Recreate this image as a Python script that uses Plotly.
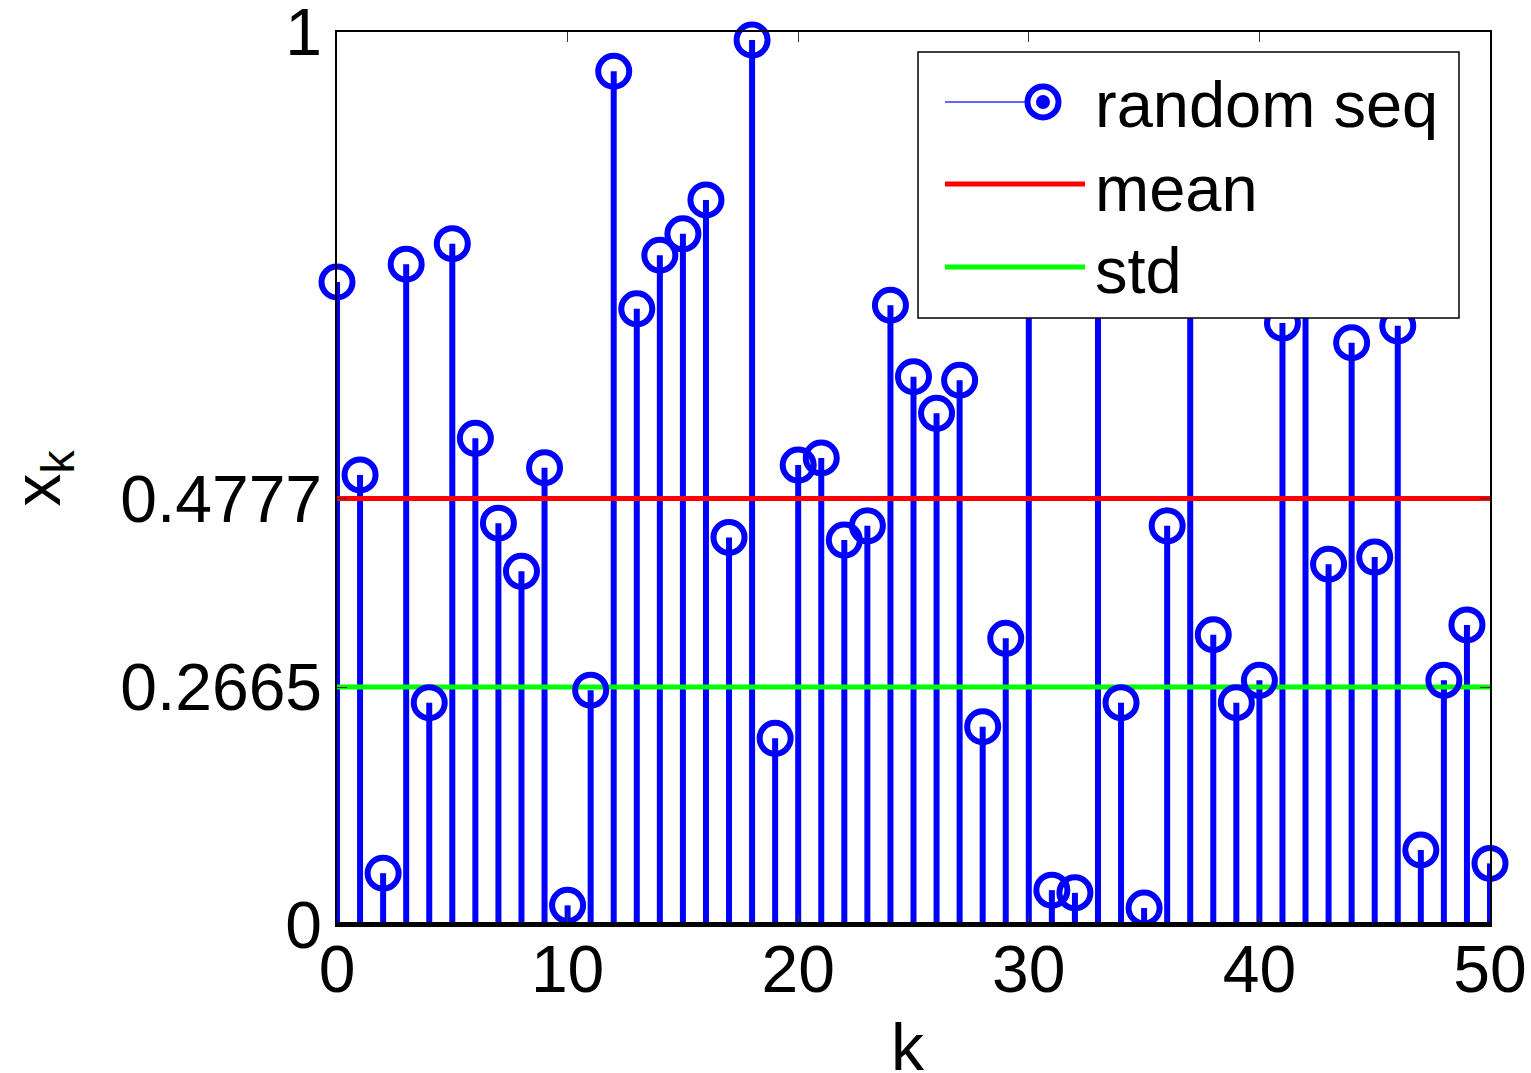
import plotly.graph_objects as go

# ---- data ----
k_values = list(range(51))
x_values = [0.720, 0.504, 0.058, 0.740, 0.249, 0.763, 0.545, 0.450, 0.396, 0.512,
            0.022, 0.263, 0.956, 0.690, 0.750, 0.774, 0.812, 0.434, 0.991, 0.209,
            0.515, 0.523, 0.431, 0.447, 0.694, 0.614, 0.573, 0.610, 0.222, 0.321,
            0.860, 0.039, 0.036, 0.800, 0.249, 0.019, 0.447, 0.900, 0.325, 0.249,
            0.274, 0.674, 0.800, 0.404, 0.652, 0.412, 0.671, 0.084, 0.274, 0.336,
            0.069]
mean_value = 0.4777
std_value = 0.2665
x_tick_vals = [0, 10, 20, 30, 40, 50]
y_tick_vals = [0, std_value, mean_value, 1]
y_tick_text = ["0", "0.2665", "0.4777", "1"]
legend_labels = ["random seq", "mean", "std"]
x_title = "k"
y_title = "x<sub>k</sub>"

BLUE = "#0000FF"
FONT = "Liberation Sans"
FS = 66
LFS = 65

# stems built from data with gaps
stem_x, stem_y = [], []
for k, v in zip(k_values, x_values):
    stem_x += [k, k, None]
    stem_y += [0, v, None]

fig = go.Figure()
fig.add_trace(go.Scatter(x=stem_x, y=stem_y, mode="lines",
                         line=dict(color=BLUE, width=6), showlegend=False,
                         hoverinfo="skip"))
kmin, kmax = k_values[0], k_values[-1]
fig.add_trace(go.Scatter(x=[kmin, kmax], y=[mean_value, mean_value], mode="lines",
                         line=dict(color="#FF0000", width=5), showlegend=False))
fig.add_trace(go.Scatter(x=[kmin, kmax], y=[std_value, std_value], mode="lines",
                         line=dict(color="#00FF00", width=5), showlegend=False))
fig.add_trace(go.Scatter(x=k_values, y=x_values, mode="markers",
                         marker=dict(symbol="circle-open", size=31, color=BLUE,
                                     line=dict(width=6, color=BLUE)),
                         cliponaxis=False, showlegend=False))

# baseline
fig.add_shape(type="line", xref="x", yref="y", x0=kmin, x1=kmax, y0=0, y1=0,
              line=dict(color="black", width=6), layer="above")

# ---- manual legend (paper coordinates) ----
L, T, W, H = 337, 32, 1153, 893
def px(xp):
    return (xp - L) / W
def py(yp):
    return (T + H - yp) / H

fig.add_shape(type="rect", xref="paper", yref="paper",
              x0=px(918), x1=px(1459), y0=py(318), y1=py(52),
              line=dict(color="black", width=1.5), fillcolor="white", layer="above")
# random seq entry
fig.add_shape(type="line", xref="paper", yref="paper",
              x0=px(945), x1=px(1030), y0=py(102), y1=py(102),
              line=dict(color="#6666FF", width=2), layer="above")
fig.add_shape(type="circle", xref="paper", yref="paper",
              xsizemode="pixel", ysizemode="pixel", xanchor=px(1043), yanchor=py(102),
              x0=-15.5, x1=15.5, y0=-15.5, y1=15.5,
              line=dict(color=BLUE, width=6), fillcolor="white", layer="above")
fig.add_shape(type="circle", xref="paper", yref="paper",
              xsizemode="pixel", ysizemode="pixel", xanchor=px(1043), yanchor=py(102),
              x0=-7, x1=7, y0=-7, y1=7,
              line=dict(color=BLUE, width=0), fillcolor=BLUE, layer="above")
fig.add_shape(type="line", xref="paper", yref="paper",
              x0=px(945), x1=px(1085), y0=py(184), y1=py(184),
              line=dict(color="#FF0000", width=5), layer="above")
fig.add_shape(type="line", xref="paper", yref="paper",
              x0=px(945), x1=px(1085), y0=py(267), y1=py(267),
              line=dict(color="#00FF00", width=5), layer="above")
for lab, yy in zip(legend_labels, [104, 188, 270]):
    fig.add_annotation(text=lab, xref="paper", yref="paper", x=px(1093), y=py(yy),
                       xanchor="left", yanchor="middle", showarrow=False,
                       font=dict(family=FONT, size=LFS, color="black"))

# x-axis title
fig.add_annotation(text=x_title, xref="paper", yref="paper", x=px(908), y=py(1047),
                   xanchor="center", yanchor="middle", showarrow=False,
                   font=dict(family=FONT, size=FS, color="black"))

fig.update_layout(
    width=1531, height=1073,
    margin=dict(l=L, r=1531 - L - W, t=T, b=1073 - T - H, autoexpand=False),
    paper_bgcolor="white", plot_bgcolor="white",
    font=dict(family=FONT, size=FS, color="black"),
    showlegend=False,
)
fig.update_xaxes(range=[kmin, kmax], tickvals=x_tick_vals,
                 ticktext=[str(v) for v in x_tick_vals],
                 showgrid=False, zeroline=False, showline=True, mirror="ticks",
                 linecolor="black", linewidth=1.5, ticks="inside", ticklen=10,
                 tickwidth=1, tickcolor="#333333", ticklabelstandoff=-14,
                 ticklabeloverflow="allow",
                 tickfont=dict(family=FONT, size=FS))
fig.update_yaxes(range=[0, 1], tickvals=y_tick_vals, ticktext=y_tick_text,
                 showgrid=False, zeroline=False, showline=True, mirror="ticks",
                 linecolor="black", linewidth=1.5, ticks="inside", ticklen=10,
                 tickwidth=1, tickcolor="#333333", ticklabeloverflow="allow",
                 tickfont=dict(family=FONT, size=FS),
                 title=dict(text=y_title, font=dict(family=FONT, size=FS), standoff=50))

fig.write_html("out.html")
